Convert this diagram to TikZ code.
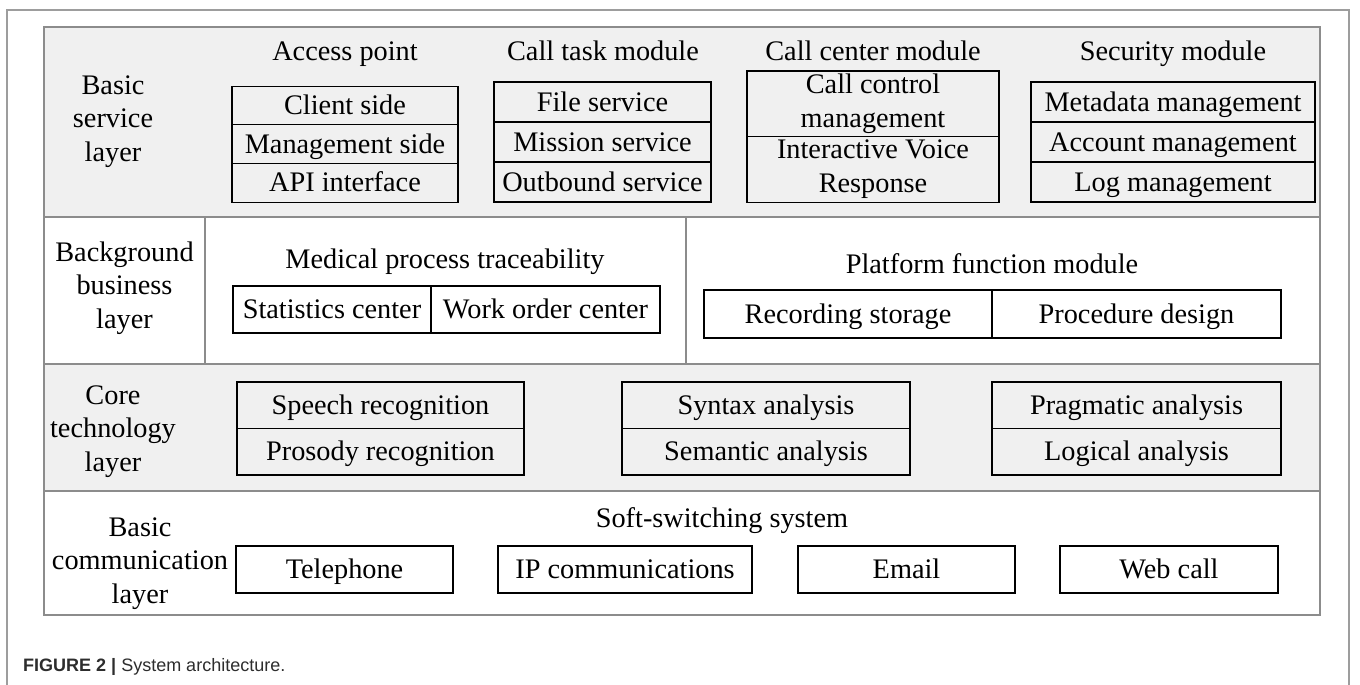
\documentclass[tikz,border=0pt]{standalone}
\usepackage{fontspec}
\setmainfont{Liberation Serif}
\newfontfamily\capfont{Liberation Sans}
\usetikzlibrary{positioning}

\definecolor{layergray}{RGB}{240,240,240}
\definecolor{framegray}{RGB}{140,140,140}
\definecolor{capgray}{RGB}{45,45,45}

\tikzstyle{layer}=[draw=framegray, line width=1.8pt]
\tikzstyle{box}=[draw, line width=1.1pt, inner sep=0pt, outer sep=0pt, align=center, font=\fontsize{28.3}{33.5}\selectfont]
\tikzstyle{cell}=[box, text height=22pt, text depth=4pt]
\tikzstyle{head}=[inner sep=0pt, anchor=base, align=center, font=\fontsize{28.3}{33.5}\selectfont]

\begin{document}
\begin{tikzpicture}[x=1pt, y=-1pt]
\useasboundingbox (0,0) rectangle (1360,685);
% outer frame
\draw[framegray!85, line width=1.5pt] (7,685) -- (7,10) -- (1349,10) -- (1349,685);

% layers
\draw[layer, fill=layergray] (44,27) rectangle (1320,217);
\draw[layer, fill=white] (44,217) rectangle (1320,364);
\draw[layer, fill=layergray] (44,364) rectangle (1320,491);
\draw[layer, fill=white] (44,491) rectangle (1320,615);
\draw[layer] (205,217) -- (205,364);
\draw[layer] (686,217) -- (686,364);

% basic service layer (base = last line)
\node[head] (bsl) at (113,161) {Basic\\service\\layer};
\node[head] (ap) at (345,61) {Access point};
\node[cell, minimum width=226pt, minimum height=38.7pt] (ap1) at (345,105.4) {Client side};
\node[cell, minimum width=226pt, minimum height=38.7pt, below=0pt of ap1] (ap2) {Management side};
\node[cell, minimum width=226pt, minimum height=38.7pt, below=0pt of ap2] (ap3) {API interface};

\node[head] (ct) at (603,61) {Call task module};
\node[cell, minimum width=217pt, minimum height=40pt] (ct1) at (602.5,102) {File service};
\node[cell, minimum width=217pt, minimum height=40pt, below=0pt of ct1] (ct2) {Mission service};
\node[cell, minimum width=217pt, minimum height=40pt, below=0pt of ct2] (ct3) {Outbound service};

\node[head] (cc) at (873,61) {Call center module};
\node[box, minimum width=252pt, minimum height=65.5pt] (cc1) at (873,103.8) {Call control\\management};
\node[box, minimum width=252pt, minimum height=65.5pt, below=0pt of cc1] (cc2) {Interactive Voice\\Response};

\node[head] (sm) at (1173,61) {Security module};
\node[cell, minimum width=284pt, minimum height=40pt] (sm1) at (1173,102) {Metadata management};
\node[cell, minimum width=284pt, minimum height=40pt, below=0pt of sm1] (sm2) {Account management};
\node[cell, minimum width=284pt, minimum height=40pt, below=0pt of sm2] (sm3) {Log management};

% background business layer
\node[head] (bbl) at (124.5,328) {Background\\business\\layer};
\node[head] (mp) at (445,268) {Medical process traceability};
\node[cell, minimum width=198pt, minimum height=47pt] (mp1) at (332,309.5) {Statistics center};
\node[cell, minimum width=229pt, minimum height=47pt, right=0pt of mp1] (mp2) {Work order center};

\node[head] (pf) at (992,273) {Platform function module};
\node[cell, minimum width=288pt, minimum height=48pt] (pf1) at (848,314) {Recording storage};
\node[cell, minimum width=289pt, minimum height=48pt, right=0pt of pf1] (pf2) {Procedure design};

% core technology layer
\node[head] (ctl) at (113,471) {Core\\technology\\layer};
\node[cell, minimum width=287pt, minimum height=46.5pt] (sr1) at (380.5,405.2) {Speech recognition};
\node[cell, minimum width=287pt, minimum height=46.5pt, below=0pt of sr1] (sr2) {Prosody recognition};
\node[cell, minimum width=288pt, minimum height=46.5pt] (sa1) at (766,405.2) {Syntax analysis};
\node[cell, minimum width=288pt, minimum height=46.5pt, below=0pt of sa1] (sa2) {Semantic analysis};
\node[cell, minimum width=289pt, minimum height=46.5pt] (pa1) at (1136.5,405.2) {Pragmatic analysis};
\node[cell, minimum width=289pt, minimum height=46.5pt, below=0pt of pa1] (pa2) {Logical analysis};

% basic communication layer
\node[head] (bcl) at (140,603) {Basic\\communication\\layer};
\node[head] (ss) at (722,527) {Soft-switching system};
\node[cell, minimum width=217pt, minimum height=47pt] (tel) at (344.5,569.5) {Telephone};
\node[cell, minimum width=254pt, minimum height=47pt] (ip) at (625,569.5) {IP communications};
\node[cell, minimum width=217pt, minimum height=47pt] (em) at (906.5,569.5) {Email};
\node[cell, minimum width=218pt, minimum height=47pt] (wc) at (1169,569.5) {Web call};

% caption
\node[anchor=west, inner sep=0pt, text=capgray, font=\capfont\fontsize{18}{20}\selectfont] (cap) at (23,667) {\textbf{FIGURE 2 |} System architecture.};
\end{tikzpicture}
\end{document}
